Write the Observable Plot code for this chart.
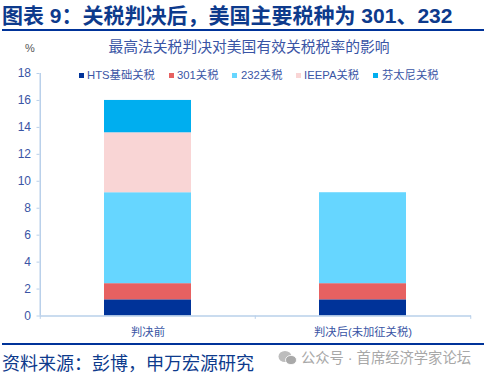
<!DOCTYPE html>
<html><head><meta charset="utf-8">
<script src="https://cdn.jsdelivr.net/npm/d3@7"></script>
<script src="https://cdn.jsdelivr.net/npm/@observablehq/plot@0.6"></script>
<style>
html,body{margin:0;padding:0;background:#fff;overflow:hidden}
#root{position:relative;width:486px;height:377px;font-family:"Liberation Sans","Noto Sans CJK SC",sans-serif}
#root svg.plot{position:absolute;left:0;top:0}
.t{position:absolute;white-space:nowrap;line-height:1}
.r{position:absolute;left:2px;width:482px;height:2px;background:#003399}
.s{position:absolute;width:5px;height:5px}
</style></head><body><div id="root"></div>
<script>
const categories = ["判决前", "判决后(未加征关税)"];
const seriesNames = ["HTS基础关税", "301关税", "232关税", "IEEPA关税", "芬太尼关税"];
const seriesColors = ["#003399", "#E76161", "#66D6FF", "#F9D5D5", "#00AEEF"];
const hts = [1.2, 1.2];
const s301 = [1.2, 1.2];
const s232 = [6.75, 6.75];
const ieepa = [4.45, 0];
const fentanyl = [2.4, 0];
const yTicks = [0, 2, 4, 6, 8, 10, 12, 14, 16, 18];
const legendSwatchX = [79, 169, 232, 296, 373];
const legendTextX = [87, 177, 241, 304, 382];

const columns = [hts, s301, s232, ieepa, fentanyl];
const rows = seriesNames.flatMap((name, i) =>
  categories.map((c, j) => ({category: c, series: name, value: columns[i][j]})));

const axisColor = "#B9D0EA", textBlue = "#3A55A5";
const halfStep = 107.75;
const root = document.getElementById("root");

const chart = Plot.plot({
  width: 486, height: 377,
  marginLeft: 39.5, marginRight: 15, marginTop: 73, marginBottom: 61.5,
  style: {background: "transparent", fontFamily: '"Liberation Sans","Noto Sans CJK SC",sans-serif'},
  x: {domain: categories, paddingInner: 0.597, paddingOuter: 0.2985, align: 0.5, label: null},
  y: {domain: [0, 18], label: null},
  color: {domain: seriesNames, range: seriesColors},
  marks: [
    Plot.barY(rows, {x: "category", y: "value", fill: "series"}),
    Plot.ruleY([0], {stroke: axisColor, strokeWidth: 1.5}),
    Plot.ruleX([categories[0]], {dx: -halfStep, y1: 0, y2: 18, stroke: axisColor, strokeWidth: 1.5}),
    Plot.ruleX(categories, {dx: -halfStep, y1: 0, y2: -0.25, stroke: axisColor}),
    Plot.ruleX([categories[1]], {dx: halfStep, y1: 0, y2: -0.25, stroke: axisColor}),
    Plot.axisY({ticks: yTicks, tickSize: 3, tickPadding: 6, stroke: axisColor, fill: textBlue, fontSize: 12, fontWeight: 500, tickFormat: d => d}),
    Plot.axisX({tickSize: 0, tickPadding: 12, fill: textBlue, fontSize: 11.3})
  ]
});
root.appendChild(chart);

function text(str, x, y, size, color, extra) {
  const d = document.createElement("div");
  d.className = "t"; d.textContent = str;
  d.style.cssText = `left:${x}px;top:${y}px;font-size:${size}px;color:${color};${extra || ""}`;
  root.appendChild(d); return d;
}
text("图表 9：关税判决后，美国主要税种为 301、232", 2, 5, 21, "#0D3A8C", "font-weight:700");
const r1 = document.createElement("div"); r1.className = "r"; r1.style.top = "29px"; root.appendChild(r1);
text("最高法关税判决对美国有效关税税率的影响", 249, 40, 14.8, textBlue, "transform:translateX(-50%)");
text("%", 25, 43, 11, "#555555");
seriesNames.forEach((n, i) => {
  const s = document.createElement("div"); s.className = "s";
  s.style.cssText = `left:${legendSwatchX[i]}px;top:73px;background:${seriesColors[i]}`;
  root.appendChild(s);
  text(n, legendTextX[i], 70, 11.3, textBlue);
});
const r2 = document.createElement("div"); r2.className = "r"; r2.style.top = "343px"; root.appendChild(r2);
text("资料来源：彭博，申万宏源研究", 2, 355, 18, "#0D3A8C");
text("公众号 · 首席经济学家论坛", 301, 351, 14.3, "#A8A8A8");
const icon = document.createElementNS("http://www.w3.org/2000/svg", "svg");
icon.setAttribute("width", 19); icon.setAttribute("height", 16);
icon.style.cssText = "position:absolute;left:278px;top:350px";
icon.innerHTML = '<ellipse cx="7" cy="6.5" rx="6.5" ry="5.5" fill="#BDBDBD"/><ellipse cx="13" cy="10" rx="5.5" ry="4.6" fill="#A9A9A9" stroke="#fff" stroke-width=".8"/>';
root.appendChild(icon);
</script></body></html>
